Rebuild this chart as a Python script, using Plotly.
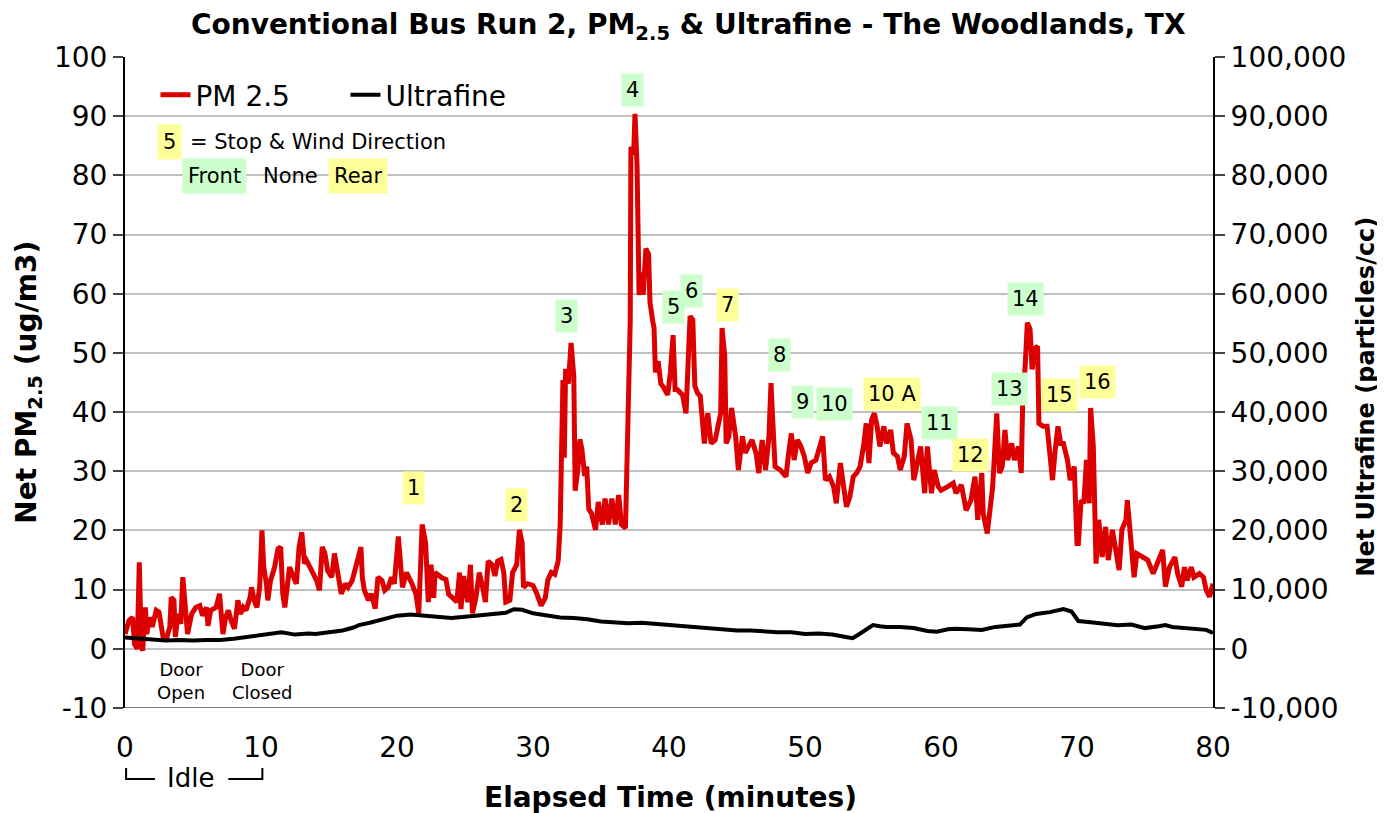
import plotly.graph_objects as go

# PM2.5 trace (minutes, ug/m3)
pm_time = [
    0.0, 0.3, 0.56, 0.7, 0.9, 1.05, 1.2, 1.3, 1.5, 1.6, 1.8, 2.0, 2.3, 2.5, 2.8, 3.0, 3.3, 3.4, 3.6, 3.7,
    3.9, 4.1, 4.25, 4.4, 4.6, 4.9, 5.2, 5.5, 5.7, 6.0, 6.1, 6.3, 6.7, 6.95, 7.1, 7.2, 7.4, 7.6, 7.8, 8.05,
    8.3, 8.5, 8.7, 8.9, 9.2, 9.3, 9.5, 9.7, 9.9, 10.07, 10.2, 10.4, 10.5, 10.7, 11.0, 11.25, 11.45, 11.6, 11.75, 11.95,
    12.1, 12.4, 12.6, 12.8, 13.0, 13.2, 13.35, 13.6, 13.85, 14.1, 14.3, 14.5, 14.7, 14.9, 15.2, 15.4, 15.7, 15.9, 16.2, 16.4,
    16.7, 16.9, 17.15, 17.35, 17.45, 17.6, 17.9, 18.1, 18.4, 18.6, 18.9, 19.1, 19.35, 19.6, 19.8, 20.1, 20.4, 20.7, 21.1, 21.4,
    21.6, 21.85, 22.1, 22.3, 22.5, 22.7, 22.8, 23.1, 23.3, 23.6, 23.8, 24.1, 24.4, 24.6, 24.7, 24.9, 25.2, 25.4, 25.55, 25.8,
    26.05, 26.3, 26.5, 26.7, 27.0, 27.2, 27.4, 27.65, 27.85, 28.0, 28.3, 28.5, 28.8, 29.0, 29.2, 29.3, 29.6, 30.0, 30.25, 30.6,
    30.9, 31.1, 31.35, 31.6, 31.85, 32.0, 32.1, 32.2, 32.3, 32.4, 32.6, 32.8, 33.0, 33.1, 33.3, 33.45, 33.6, 33.8, 33.95, 34.1,
    34.3, 34.6, 34.8, 35.1, 35.3, 35.55, 35.8, 36.05, 36.3, 36.5, 36.8, 36.9, 37.05, 37.15, 37.2, 37.4, 37.5, 37.65, 37.8, 38.0,
    38.1, 38.3, 38.5, 38.6, 38.8, 38.9, 39.0, 39.2, 39.4, 39.6, 39.9, 40.1, 40.3, 40.45, 40.6, 41.0, 41.25, 41.4, 41.55, 41.75,
    41.9, 42.1, 42.3, 42.6, 42.85, 43.1, 43.4, 43.6, 43.8, 43.9, 44.1, 44.2, 44.4, 44.6, 44.9, 45.1, 45.4, 45.6, 45.9, 46.1,
    46.4, 46.6, 46.85, 47.1, 47.35, 47.5, 47.6, 47.8, 48.2, 48.6, 48.8, 49.0, 49.2, 49.45, 49.7, 49.95, 50.2, 50.45, 50.8, 51.1,
    51.3, 51.5, 51.8, 52.1, 52.3, 52.6, 52.8, 53.05, 53.3, 53.55, 53.8, 54.05, 54.3, 54.5, 54.7, 54.9, 55.1, 55.3, 55.5, 55.8,
    56.0, 56.3, 56.5, 56.8, 57.0, 57.3, 57.5, 57.8, 58.0, 58.3, 58.5, 58.8, 59.0, 59.3, 59.5, 59.8, 60.0, 60.5, 60.9, 61.1,
    61.5, 61.85, 62.2, 62.5, 62.7, 63.0, 63.1, 63.4, 63.6, 63.8, 64.1, 64.3, 64.5, 64.7, 64.9, 65.2, 65.4, 65.7, 65.9, 66.0,
    66.2, 66.35, 66.55, 66.7, 66.9, 67.1, 67.2, 67.5, 67.8, 68.0, 68.2, 68.4, 68.6, 68.8, 69.0, 69.3, 69.5, 69.8, 70.0, 70.1,
    70.3, 70.5, 70.7, 70.9, 71.0, 71.2, 71.4, 71.6, 71.85, 72.1, 72.3, 72.6, 72.8, 73.1, 73.3, 73.6, 73.7, 74.0, 74.2, 74.4,
    74.8, 75.2, 75.6, 75.9, 76.3, 76.5, 76.8, 77.2, 77.4, 77.7, 77.9, 78.1, 78.4, 78.6, 79.0, 79.3, 79.5, 79.75, 80.0,
]
pm25 = [
    2.5, 4.8, 5.3, 0.8, 0.0, 14.6, 0.3, -0.3, 7.0, 2.5, 5.3, 3.7, 6.5, 6.2, 2.0, 1.4, 3.7, 8.7, 8.2, 2.0,
    5.9, 4.2, 12.1, 8.2, 2.5, 5.9, 7.0, 7.3, 5.6, 7.0, 3.9, 6.5, 7.0, 9.3, 4.8, 2.5, 5.3, 6.5, 4.8, 3.4,
    8.2, 5.9, 7.0, 6.5, 8.7, 10.4, 8.2, 7.0, 10.4, 20.0, 13.8, 11.0, 8.2, 11.5, 13.8, 16.9, 17.2, 9.3, 7.0, 10.4,
    13.8, 12.1, 11.0, 17.2, 19.7, 14.4, 14.9, 13.8, 12.7, 11.5, 9.9, 17.2, 16.1, 13.2, 12.1, 16.1, 12.1, 9.3, 11.0, 10.4,
    11.5, 13.2, 14.9, 17.2, 12.1, 9.9, 8.2, 9.3, 6.8, 12.1, 11.5, 9.9, 10.4, 12.1, 11.0, 19.0, 10.4, 12.9, 11.0, 9.2,
    6.0, 21.0, 18.0, 7.9, 14.2, 8.6, 12.9, 12.3, 12.0, 11.7, 9.2, 8.6, 7.9, 12.9, 6.7, 12.3, 7.9, 14.2, 6.0, 8.6,
    12.9, 10.4, 7.9, 14.8, 14.2, 12.3, 14.8, 15.1, 12.9, 7.9, 8.2, 12.9, 14.2, 20.1, 17.9, 10.4, 11.0, 10.7, 9.5, 7.3,
    8.6, 11.7, 12.9, 12.6, 14.8, 21.0, 30.4, 45.4, 32.3, 47.3, 44.8, 51.7, 46.0, 26.7, 30.4, 35.4, 33.6, 29.2, 30.8, 23.6,
    22.9, 20.1, 24.8, 21.0, 25.4, 21.0, 25.4, 21.0, 26.0, 21.0, 20.4, 29.2, 38.6, 55.4, 84.8, 83.6, 90.4, 81.7, 59.8, 63.6,
    59.8, 67.6, 66.7, 58.6, 55.4, 54.2, 46.7, 48.6, 44.8, 44.2, 42.9, 46.7, 53.0, 43.8, 43.8, 42.9, 39.8, 46.6, 56.2, 55.6,
    44.4, 43.2, 42.7, 34.7, 39.8, 34.7, 35.3, 37.6, 39.8, 54.2, 49.4, 34.7, 35.9, 40.7, 35.9, 30.2, 35.9, 33.1, 34.2, 35.3,
    33.1, 29.7, 35.3, 30.2, 35.9, 44.9, 39.8, 30.8, 30.2, 29.1, 33.1, 36.4, 31.9, 35.3, 34.2, 32.5, 29.7, 31.4, 31.9, 34.7,
    35.9, 28.5, 29.1, 27.4, 24.6, 31.4, 27.4, 24.0, 25.7, 29.1, 29.7, 30.8, 34.2, 38.1, 31.4, 38.7, 39.8, 37.6, 34.2, 37.6,
    34.7, 37.0, 33.1, 32.5, 30.2, 32.5, 38.1, 35.3, 28.5, 31.9, 34.2, 26.3, 34.2, 26.3, 30.2, 27.4, 26.8, 27.4, 28.0, 26.3,
    27.7, 23.4, 25.1, 29.1, 21.8, 29.7, 22.9, 19.5, 24.0, 27.4, 39.8, 29.7, 30.8, 37.0, 31.9, 34.7, 31.9, 34.2, 29.7, 41.0,
    48.3, 55.1, 54.0, 47.2, 50.8, 51.1, 38.1, 37.6, 37.6, 33.1, 28.5, 33.6, 37.6, 34.7, 34.7, 31.9, 28.5, 30.8, 17.8, 17.8,
    25.1, 24.6, 31.9, 24.6, 40.7, 34.2, 14.4, 21.8, 15.5, 20.6, 15.0, 20.1, 17.8, 13.3, 20.1, 21.8, 25.1, 18.4, 12.1, 16.1,
    15.5, 15.0, 12.7, 14.4, 16.7, 10.5, 13.8, 15.5, 12.7, 10.5, 13.8, 11.6, 13.8, 12.1, 12.7, 12.1, 9.9, 8.8, 11.0,
]

# Ultrafine trace (minutes, particles/cc)
uf_time = [
    0, 1, 2, 3, 4, 5, 6, 7, 8, 9, 10, 11, 11.5, 12.5, 13.5, 14, 15, 16, 16.8, 17.2,
    18, 19, 20, 21, 22, 23, 24, 25, 26, 27, 28, 28.6, 29.2, 30, 31, 32, 33, 34, 35, 36,
    37, 38, 39, 40, 41, 42, 43, 44, 45, 46, 47, 48, 49, 50, 51, 52, 53, 53.5, 54, 54.5,
    55, 55.5, 56, 57, 58, 59, 59.7, 60.5, 61, 62, 63, 64, 65, 65.8, 66.3, 67, 68, 69, 69.6, 70.1,
    71, 72, 73, 74, 75, 76, 76.5, 77, 78, 79, 79.5, 80,
]
ultrafine = [
    1900, 1700, 1600, 1400, 1500, 1400, 1500, 1500, 1700, 2000, 2300, 2600, 2800, 2400, 2600, 2500, 2800, 3100, 3600, 4000,
    4400, 5000, 5600, 5800, 5600, 5400, 5200, 5400, 5600, 5800, 6100, 6700, 6600, 6000, 5700, 5300, 5200, 5000, 4600, 4400,
    4300, 4400, 4200, 4000, 3900, 3700, 3500, 3200, 3100, 3100, 2900, 2800, 2800, 2500, 2600, 2400, 2000, 1800, 2500, 3300,
    4000, 3800, 3700, 3700, 3500, 3000, 2900, 3300, 3400, 3300, 3200, 3700, 4000, 4100, 5300, 5900, 6200, 6700, 6300, 4700,
    4500, 4300, 4000, 4100, 3500, 3800, 4000, 3700, 3500, 3400, 3200, 2700,
]

# Stop labels: text, wind direction, position
stop_labels = ["1", "2", "3", "4", "5", "6", "7", "8", "9", "10", "10 A", "11", "12", "13", "14", "15", "16"]
stop_wind = ["Rear", "Rear", "Front", "Front", "Front", "Front", "Rear", "Front", "Front", "Front",
             "Rear", "Front", "Rear", "Front", "Front", "Rear", "Rear"]
stop_t = [21.2, 28.8, 32.45, 37.3, 40.3, 41.65, 44.3, 48.1, 49.8, 52.2, 56.4, 59.9, 62.2, 65.0, 66.2, 68.7, 71.5]
stop_v = [27.2, 24.3, 56.3, 94.4, 57.8, 60.5, 58.1, 49.7, 41.7, 41.4, 43.1, 38.2, 32.8, 43.9, 59.1, 42.9, 45.1]

pm_ticks = [-10, 0, 10, 20, 30, 40, 50, 60, 70, 80, 90, 100]
uf_ticks = [-10000, 0, 10000, 20000, 30000, 40000, 50000, 60000, 70000, 80000, 90000, 100000]

WIND_COLORS = {"Front": "#CCFFCC", "Rear": "#FFFF99", "None": "rgba(0,0,0,0)"}
RED = "#DD0000"
FONT = "DejaVu Sans"

fig = go.Figure()
fig.add_trace(go.Scatter(x=pm_time, y=pm25, mode="lines", name="PM 2.5",
                         line=dict(color=RED, width=5)))
fig.add_trace(go.Scatter(x=uf_time, y=ultrafine, mode="lines", name="Ultrafine", yaxis="y2",
                         line=dict(color="black", width=4)))

for txt, wind, t, v in zip(stop_labels, stop_wind, stop_t, stop_v):
    fig.add_annotation(x=t, y=v, text=txt, showarrow=False, bgcolor=WIND_COLORS[wind],
                       borderpad=4, font=dict(size=21, color="black"))

# key for the stop boxes
fig.add_annotation(x=3.3, y=85.6, text="5", showarrow=False, bgcolor=WIND_COLORS["Rear"],
                   borderpad=5, font=dict(size=21))
fig.add_annotation(x=4.6, y=85.6, text="= Stop &amp; Wind Direction", showarrow=False, xanchor="left",
                   font=dict(size=21))
for word, t in [("Front", 6.6), ("None", 12.2), ("Rear", 17.1)]:
    fig.add_annotation(x=t, y=79.9, text=word, showarrow=False, bgcolor=WIND_COLORS[word],
                       borderpad=5, font=dict(size=21))

# door notes
fig.add_annotation(x=4.1, y=-5.4, text="Door<br>Open", showarrow=False, font=dict(size=18))
fig.add_annotation(x=10.1, y=-5.4, text="Door<br>Closed", showarrow=False, font=dict(size=18))

# idle bracket below tick labels
fig.add_annotation(x=4.8, y=-0.108, yref="paper", yanchor="middle", text="Idle", showarrow=False,
                   font=dict(size=26))
fig.add_shape(type="path", xref="x", yref="paper", path="M 0.08,-0.092 L 0.08,-0.109 L 2.2,-0.109",
              line=dict(color="black", width=2))
fig.add_shape(type="path", xref="x", yref="paper", path="M 7.6,-0.109 L 10.1,-0.109 L 10.1,-0.092",
              line=dict(color="black", width=2))

# axis titles placed as annotations
fig.add_annotation(x=0.501, y=-0.138, xref="paper", yref="paper", xanchor="center", yanchor="middle",
                   showarrow=False, text="<b>Elapsed Time (minutes)</b>", font=dict(size=28))
fig.add_annotation(x=-0.089, y=0.5, xref="paper", yref="paper", xanchor="center", yanchor="middle",
                   textangle=-90, showarrow=False,
                   text="<b>Net PM<sub>2.5</sub> (ug/m3)</b>", font=dict(size=28))
fig.add_annotation(x=1.1405, y=0.478, xref="paper", yref="paper", xanchor="center", yanchor="middle",
                   textangle=-90, showarrow=False,
                   text="<b>Net Ultrafine (particles/cc)</b>", font=dict(size=24))

tick_font = dict(size=28, color="black", family=FONT)

fig.update_layout(
    width=1377,
    height=805,
    autosize=False,
    paper_bgcolor="white",
    plot_bgcolor="white",
    font=dict(family=FONT, color="black"),
    margin=dict(l=117, r=172, t=49, b=105, autoexpand=False),
    title=dict(text="<b>Conventional Bus Run 2, PM<sub>2.5</sub> &amp; Ultrafine - The Woodlands, TX</b>",
               x=0.494, xanchor="center", y=0.98, yanchor="middle", font=dict(size=28)),
    showlegend=True,
    legend=dict(orientation="h", x=0.028, y=0.98, xanchor="left", yanchor="top",
                bgcolor="rgba(0,0,0,0)", font=dict(size=28), itemwidth=30,
                entrywidth=145),
    xaxis=dict(range=[0, 80], dtick=10, showgrid=False, zeroline=False, showline=False, automargin=False,
               ticks="outside", ticklen=14, tickcolor="rgba(0,0,0,0)", tickfont=tick_font),
    xaxis2=dict(range=[0, 80], dtick=10, overlaying="x", anchor="free", position=10 / 110, automargin=False,
                showgrid=False, zeroline=False, showline=True, linecolor="black", linewidth=2,
                ticks="outside", ticklen=10, tickwidth=2, showticklabels=False),
    xaxis3=dict(range=[0, 80], dtick=10, overlaying="x", anchor="free", position=10 / 110, automargin=False,
                showgrid=False, zeroline=False, showline=False,
                ticks="inside", ticklen=10, tickwidth=2, tickcolor="black", showticklabels=False),
    yaxis=dict(range=[-10, 100], tickvals=pm_ticks, ticktext=[str(v) for v in pm_ticks], domain=[0, 1],
               showgrid=True, gridcolor="#C0C0C0", gridwidth=2, automargin=False,
               zeroline=False, showline=True, linecolor="black", linewidth=2,
               ticks="outside", ticklen=10, tickwidth=2, tickfont=tick_font),
    yaxis3=dict(range=[-10, 100], dtick=10, overlaying="y", side="left", showgrid=False, zeroline=False,
                showline=False, ticks="inside", ticklen=10, tickwidth=2, tickcolor="black",
                showticklabels=False, automargin=False),
    yaxis2=dict(range=[-10000, 100000], tickvals=uf_ticks, ticktext=[f"{v:,}" for v in uf_ticks],
                overlaying="y", side="right", showgrid=False, automargin=False,
                zeroline=False, showline=True, linecolor="black", linewidth=2,
                ticks="outside", ticklen=10, tickwidth=2, tickfont=tick_font),
    yaxis4=dict(range=[-10000, 100000], dtick=10000, overlaying="y", side="right", showgrid=False,
                zeroline=False, showline=False, ticks="inside", ticklen=10, tickwidth=2,
                tickcolor="black", showticklabels=False, automargin=False),
)

# darker bottom edge of the plot area
fig.add_shape(type="line", xref="paper", yref="y", x0=0, x1=1, y0=-10, y1=-10,
              line=dict(color="#808080", width=2), layer="below")

fig.write_html("out.html")
